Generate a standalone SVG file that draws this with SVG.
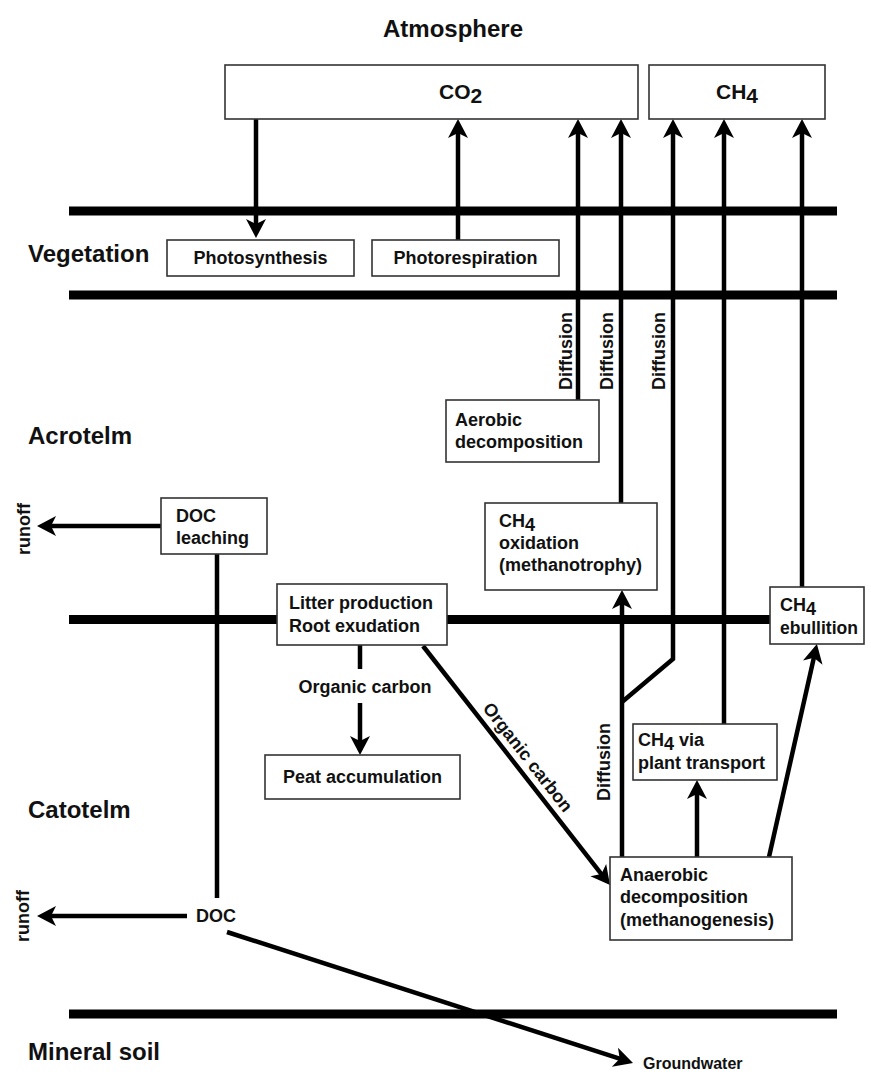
<svg xmlns="http://www.w3.org/2000/svg" width="871" height="1075" viewBox="0 0 871 1075">
<style>
text{font-family:"Liberation Sans",Arial,sans-serif;font-weight:bold;fill:#111}
.region{font-size:24px}
.lbl{font-size:18px}
.big{font-size:21px}
.box{fill:#fff;stroke:#333;stroke-width:1.6}
.bar{stroke:#000;stroke-width:9}
.con{stroke:#000;stroke-width:4.5;fill:none}
.arr{marker-end:url(#ah)}
</style>
<defs>
<marker id="ah" markerUnits="userSpaceOnUse" viewBox="-15 -11 22 22" markerWidth="22" markerHeight="22" refX="0" refY="0" orient="auto">
<path d="M6,0 L-13,-10 L-8,0 L-13,10 Z" fill="#000"/>
</marker>
</defs>
<rect width="871" height="1075" fill="#fff"/>

<g id="layers">
<line class="bar" x1="69" y1="211" x2="837" y2="211"/>
<line class="bar" x1="69" y1="295" x2="837" y2="295"/>
<line class="bar" x1="69" y1="619.5" x2="837" y2="619.5"/>
<line class="bar" x1="69" y1="1014" x2="837" y2="1014"/>
<text class="region" x="453" y="37" text-anchor="middle">Atmosphere</text>
<text class="region" x="28" y="262">Vegetation</text>
<text class="region" x="28" y="444">Acrotelm</text>
<text class="region" x="28" y="818">Catotelm</text>
<text class="region" x="28" y="1060">Mineral soil</text>
</g>

<g id="connectors">
<line class="con arr" x1="256" y1="119" x2="256" y2="232"/>
<line class="con arr" x1="458" y1="240" x2="458" y2="125"/>
<line class="con arr" x1="578" y1="400" x2="578" y2="125"/>
<line class="con arr" x1="621" y1="503" x2="621" y2="125"/>
<line class="con arr" x1="622" y1="857" x2="622" y2="596"/>
<polyline class="con arr" points="622,702 673,659 673,125"/>
<line class="con arr" x1="724" y1="724" x2="724" y2="125"/>
<line class="con arr" x1="802" y1="587" x2="802" y2="125"/>
<line class="con arr" x1="697" y1="857" x2="697" y2="786"/>
<line class="con arr" x1="769" y1="857" x2="815.6" y2="649.9"/>
<line class="con arr" x1="423" y1="646" x2="606.3" y2="880.3"/>
<line class="con" x1="360" y1="645" x2="360" y2="669"/>
<line class="con arr" x1="360" y1="703" x2="360" y2="749"/>
<line class="con arr" x1="161" y1="526" x2="43" y2="526"/>
<line class="con" x1="217" y1="554" x2="217" y2="898"/>
<line class="con arr" x1="187" y1="916" x2="43" y2="916"/>
<line class="con arr" x1="227" y1="932" x2="627.3" y2="1061.2"/>
<text class="lbl" transform="translate(572,351) rotate(-90)" text-anchor="middle">Diffusion</text>
<text class="lbl" transform="translate(613,351) rotate(-90)" text-anchor="middle">Diffusion</text>
<text class="lbl" transform="translate(665,351) rotate(-90)" text-anchor="middle">Diffusion</text>
<text class="lbl" transform="translate(610,762) rotate(-90)" text-anchor="middle">Diffusion</text>
<text class="lbl" transform="translate(30,529) rotate(-90)" text-anchor="middle">runoff</text>
<text class="lbl" transform="translate(29,916) rotate(-90)" text-anchor="middle">runoff</text>
<text class="lbl" x="365" y="693" text-anchor="middle">Organic carbon</text>
<text class="lbl" transform="translate(523,761) rotate(52)" text-anchor="middle">Organic carbon</text>
</g>

<g id="co2">
<rect class="box" x="225" y="65" width="413" height="54"/>
<text class="big" x="439" y="99">CO<tspan dy="4">2</tspan></text>
</g>
<g id="ch4">
<rect class="box" x="649" y="65" width="176" height="54"/>
<text class="big" x="716" y="99">CH<tspan dy="4">4</tspan></text>
</g>
<g id="photosynthesis">
<rect class="box" x="167" y="240" width="187" height="36"/>
<text class="lbl" x="260.5" y="264" text-anchor="middle">Photosynthesis</text>
</g>
<g id="photorespiration">
<rect class="box" x="372" y="240" width="187" height="36"/>
<text class="lbl" x="465.5" y="264" text-anchor="middle">Photorespiration</text>
</g>
<g id="aerobic">
<rect class="box" x="446" y="400" width="153" height="62"/>
<text class="lbl" x="455" y="426">Aerobic</text>
<text class="lbl" x="455" y="448">decomposition</text>
</g>
<g id="doc-leaching">
<rect class="box" x="161" y="498" width="106" height="56"/>
<text class="lbl" x="176" y="522">DOC</text>
<text class="lbl" x="176" y="544">leaching</text>
</g>
<g id="ch4-oxidation">
<rect class="box" x="485" y="503" width="172" height="87"/>
<text class="lbl" x="499" y="527">CH<tspan dy="4">4</tspan></text>
<text class="lbl" x="499" y="549">oxidation</text>
<text class="lbl" x="499" y="571">(methanotrophy)</text>
</g>
<g id="litter">
<rect class="box" x="277" y="584" width="170" height="61"/>
<text class="lbl" x="289" y="609">Litter production</text>
<text class="lbl" x="289" y="632">Root exudation</text>
</g>
<g id="ebullition">
<rect class="box" x="770" y="587" width="94" height="57"/>
<text class="lbl" x="780" y="611">CH<tspan dy="4">4</tspan></text>
<text class="lbl" x="780" y="634" textLength="78" lengthAdjust="spacingAndGlyphs">ebullition</text>
</g>
<g id="plant-transport">
<rect class="box" x="633" y="724" width="144" height="56"/>
<text class="lbl" x="638" y="746">CH<tspan dy="4">4</tspan><tspan dy="-4"> via</tspan></text>
<text class="lbl" x="638" y="769">plant transport</text>
</g>
<g id="peat">
<rect class="box" x="265" y="755" width="195" height="44"/>
<text class="lbl" x="362.5" y="783" text-anchor="middle">Peat accumulation</text>
</g>
<g id="anaerobic">
<rect class="box" x="610" y="857" width="182" height="83"/>
<text class="lbl" x="620" y="881">Anaerobic</text>
<text class="lbl" x="620" y="903">decomposition</text>
<text class="lbl" x="620" y="926">(methanogenesis)</text>
</g>
<g id="doc">
<text class="lbl" x="196" y="922">DOC</text>
</g>
<g id="groundwater">
<text x="643" y="1069" style="font-size:16px">Groundwater</text>
</g>
</svg>
